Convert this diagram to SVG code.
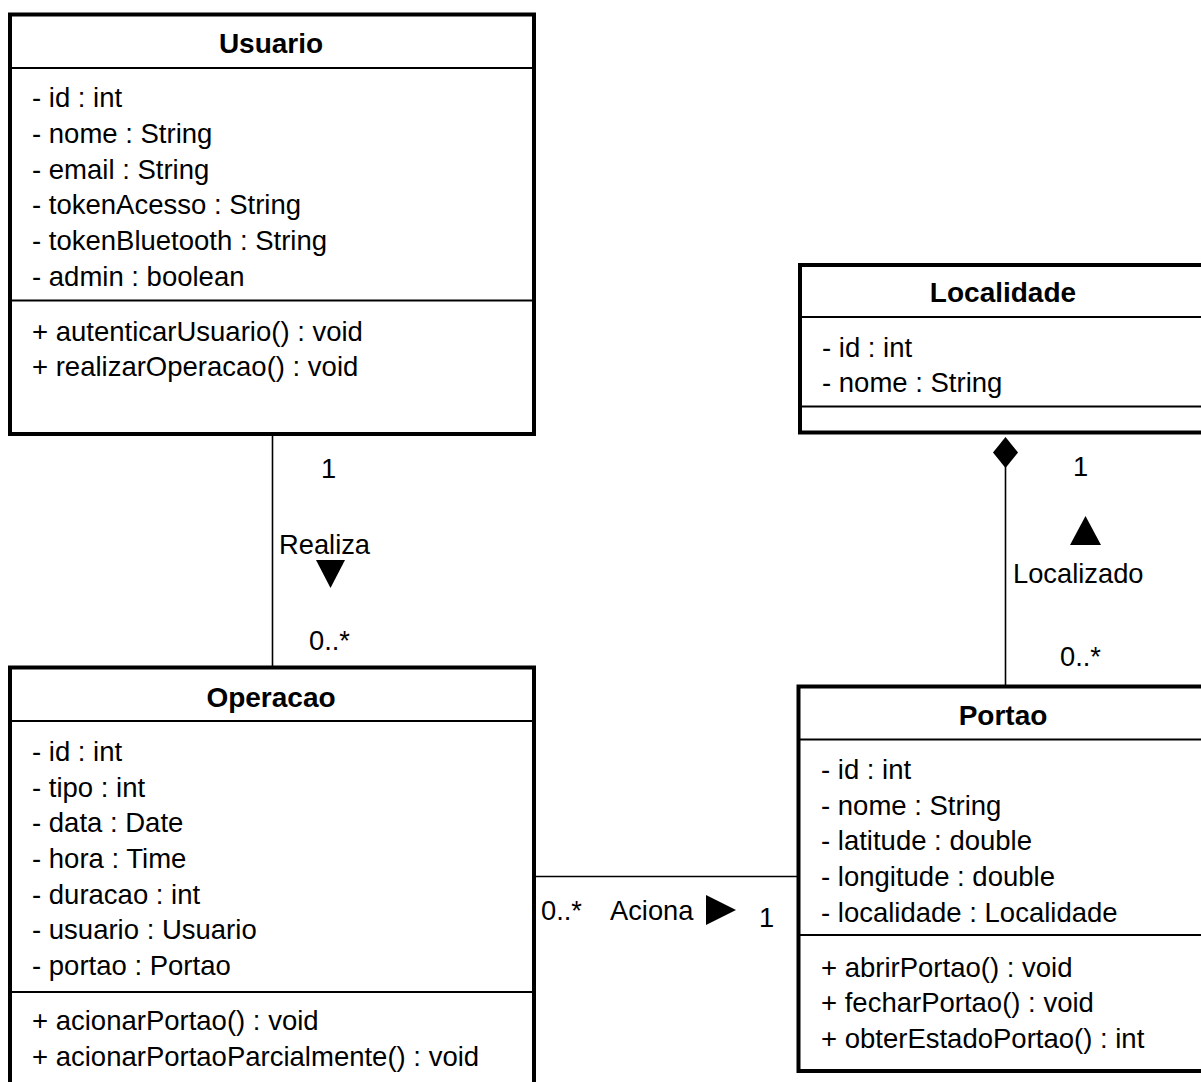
<svg xmlns="http://www.w3.org/2000/svg" width="1201" height="1082" viewBox="0 0 1201 1082">
<style>
  .box { fill: #fff; stroke: #000; stroke-width: 4; }
  .div { stroke: #000; stroke-width: 2; fill: none; }
  .conn { stroke: #000; stroke-width: 1.6; fill: none; }
  .t { font-family: "Liberation Sans", Arial, Helvetica, sans-serif; font-size: 27.5px; fill: #000; }
  .lbl { font-family: "Liberation Sans", Arial, Helvetica, sans-serif; font-size: 27.3px; fill: #000; }
  .title { font-family: "Liberation Sans", Arial, Helvetica, sans-serif; font-size: 28px; font-weight: bold; fill: #000; text-anchor: middle; }
  .fillblk { fill: #000; stroke: none; }
</style>
<rect width="1201" height="1082" fill="#fff"/>

<g id="connectors">
  <g id="realiza">
    <line class="conn" x1="272.5" y1="434" x2="272.5" y2="668"/>
    <text class="lbl" x="321" y="478">1</text>
    <text class="lbl" x="279" y="554">Realiza</text>
    <polygon class="fillblk" points="316,560 345,560 330.5,588"/>
    <text class="lbl" x="309" y="650">0..*</text>
  </g>
  <g id="localizado">
    <line class="conn" x1="1005.5" y1="466" x2="1005.5" y2="687"/>
    <polygon class="fillblk" points="1005.5,437 1018,452.5 1005.5,468 993,452.5"/>
    <text class="lbl" x="1073" y="476">1</text>
    <polygon class="fillblk" points="1070,545 1101,545 1085.5,516"/>
    <text class="lbl" x="1013" y="583">Localizado</text>
    <text class="lbl" x="1060" y="666">0..*</text>
  </g>
  <g id="aciona">
    <line class="conn" x1="534" y1="876.5" x2="798" y2="876.5"/>
    <text class="lbl" x="541" y="920">0..*</text>
    <text class="lbl" x="610" y="920">Aciona</text>
    <polygon class="fillblk" points="706,895 706,925 736,910"/>
    <text class="lbl" x="759" y="927">1</text>
  </g>
</g>

<g id="usuario">
  <rect class="box" x="10" y="14.5" width="524" height="419.5"/>
  <line class="div" x1="10" y1="68" x2="534" y2="68"/>
  <line class="div" x1="10" y1="300.5" x2="534" y2="300.5"/>
  <text class="title" x="271" y="53">Usuario</text>
  <text class="t" x="32" y="107">- id : int</text>
  <text class="t" x="32" y="143">- nome : String</text>
  <text class="t" x="32" y="178.5">- email : String</text>
  <text class="t" x="32" y="214">- tokenAcesso : String</text>
  <text class="t" x="32" y="250">- tokenBluetooth : String</text>
  <text class="t" x="32" y="285.5">- admin : boolean</text>
  <text class="t" x="32" y="340.5">+ autenticarUsuario() : void</text>
  <text class="t" x="32" y="376">+ realizarOperacao() : void</text>
</g>

<g id="localidade">
  <rect class="box" x="800" y="265" width="410" height="167.5"/>
  <line class="div" x1="800" y1="317" x2="1210" y2="317"/>
  <line class="div" x1="800" y1="406.5" x2="1210" y2="406.5"/>
  <text class="title" x="1003" y="301.5">Localidade</text>
  <text class="t" x="822" y="357">- id : int</text>
  <text class="t" x="822" y="392">- nome : String</text>
</g>

<g id="operacao">
  <rect class="box" x="10" y="667.5" width="524" height="430"/>
  <line class="div" x1="10" y1="721" x2="534" y2="721"/>
  <line class="div" x1="10" y1="992" x2="534" y2="992"/>
  <text class="title" x="271" y="706.5">Operacao</text>
  <text class="t" x="32" y="761">- id : int</text>
  <text class="t" x="32" y="796.5">- tipo : int</text>
  <text class="t" x="32" y="832">- data : Date</text>
  <text class="t" x="32" y="867.5">- hora : Time</text>
  <text class="t" x="32" y="903.5">- duracao : int</text>
  <text class="t" x="32" y="939">- usuario : Usuario</text>
  <text class="t" x="32" y="975">- portao : Portao</text>
  <text class="t" x="32" y="1030">+ acionarPortao() : void</text>
  <text class="t" x="32" y="1065.5">+ acionarPortaoParcialmente() : void</text>
</g>

<g id="portao">
  <rect class="box" x="798.5" y="686.5" width="412" height="384.5"/>
  <line class="div" x1="798.5" y1="739.5" x2="1210" y2="739.5"/>
  <line class="div" x1="798.5" y1="935" x2="1210" y2="935"/>
  <text class="title" x="1003" y="724.5">Portao</text>
  <text class="t" x="821" y="779">- id : int</text>
  <text class="t" x="821" y="814.5">- nome : String</text>
  <text class="t" x="821" y="849.5">- latitude : double</text>
  <text class="t" x="821" y="886">- longitude : double</text>
  <text class="t" x="821" y="921.5">- localidade : Localidade</text>
  <text class="t" x="821" y="976.5">+ abrirPortao() : void</text>
  <text class="t" x="821" y="1012">+ fecharPortao() : void</text>
  <text class="t" x="821" y="1048">+ obterEstadoPortao() : int</text>
</g>
</svg>
